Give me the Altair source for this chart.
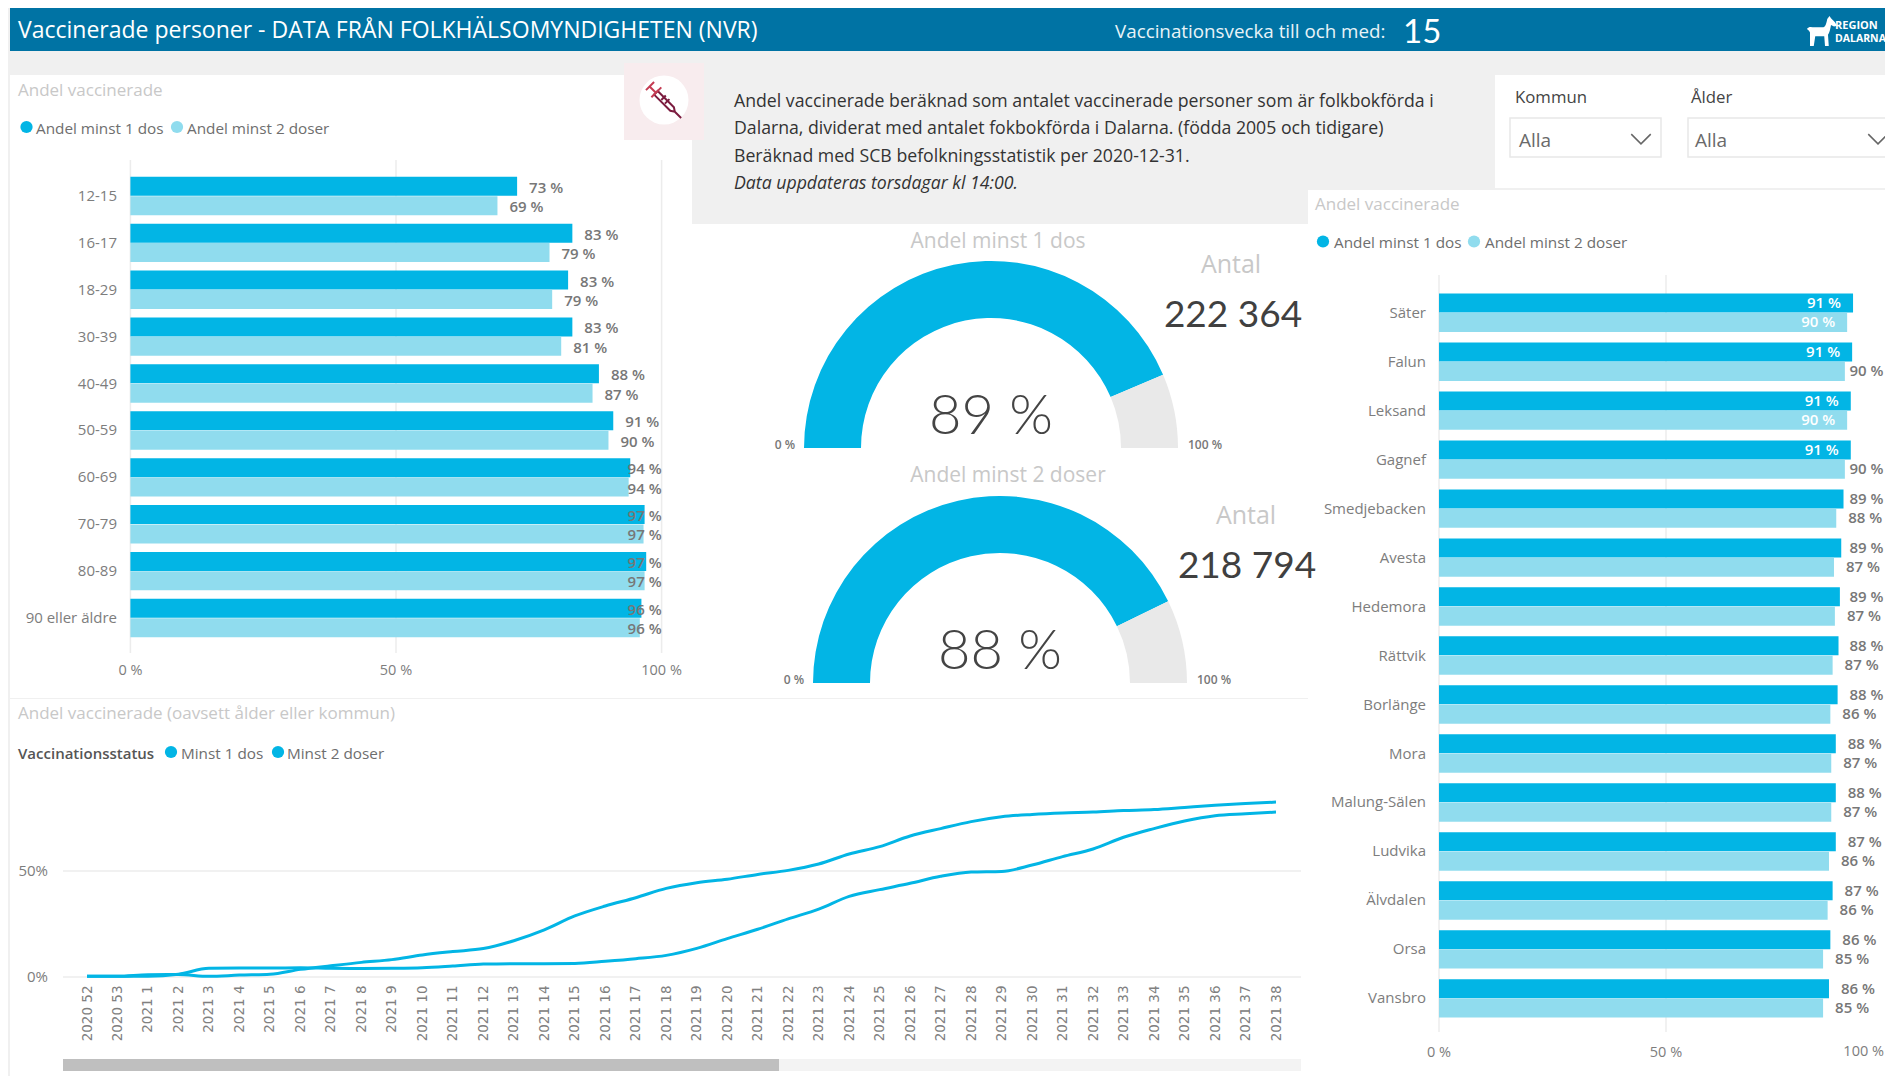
import altair as alt
import pandas as pd

CW, CH = 1877, 1068
FONT = "Open Sans"
NUMFONT = "Lato"
CYAN, LIGHT, HEADER = "#02b5e5", "#90dcee", "#0073a4"
GREY_TITLE, GREY_TEXT, GRID = "#c8c8c8", "#6e6e6e", "#ececec"
AXIS_GREY = "#7d7d7d"

# ---------- data ----------
ages = ["12-15", "16-17", "18-29", "30-39", "40-49", "50-59", "60-69", "70-79", "80-89", "90 eller äldre"]
age_dos1 = [72.8, 83.2, 82.4, 83.2, 88.2, 90.9, 94.1, 96.8, 97.1, 96.2]
age_dos2 = [69.1, 78.9, 79.4, 81.1, 87.0, 90.0, 93.8, 96.6, 96.8, 95.9]
age_lab1 = ["73 %", "83 %", "83 %", "83 %", "88 %", "91 %", "94 %", "97 %", "97 %", "96 %"]
age_lab2 = ["69 %", "79 %", "79 %", "81 %", "87 %", "90 %", "94 %", "97 %", "97 %", "96 %"]

kommuner = ["Säter", "Falun", "Leksand", "Gagnef", "Smedjebacken", "Avesta", "Hedemora", "Rättvik",
            "Borlänge", "Mora", "Malung-Sälen", "Ludvika", "Älvdalen", "Orsa", "Vansbro"]
kom_dos1 = [91.2, 91.0, 90.7, 90.7, 89.1, 88.6, 88.3, 88.0, 87.8, 87.4, 87.4, 87.4, 86.7, 86.2, 85.9]
kom_dos2 = [89.9, 89.4, 89.9, 89.4, 87.5, 87.0, 87.2, 86.7, 86.2, 86.4, 86.4, 85.9, 85.6, 84.6, 84.6]
kom_lab1 = ["91 %", "91 %", "91 %", "91 %", "89 %", "89 %", "89 %", "88 %", "88 %", "88 %", "88 %", "87 %", "87 %", "86 %", "86 %"]
kom_lab2 = ["90 %", "90 %", "90 %", "90 %", "88 %", "87 %", "87 %", "87 %", "86 %", "87 %", "87 %", "86 %", "86 %", "85 %", "85 %"]
kom_in1 = [True, True, True, True] + [False] * 11
kom_in2 = [True, False, True, False] + [False] * 11

bar_ticks = [0, 50, 100]
bar_tick_labels = ["0 %", "50 %", "100 %"]
line_ticks = [0, 50]
line_tick_labels = ["0%", "50%"]

weeks = ["2020 52", "2020 53"] + [f"2021 {i}" for i in range(1, 39)]
minst1 = [0.3, 0.3, 1.1, 1.2, 0.3, 0.9, 1.3, 3.6, 5.3, 6.9, 8.2, 10.4, 12.0, 13.4, 17.1, 22.2, 28.8, 33.5, 37.4, 41.8,
          44.5, 46.1, 48.4, 50.3, 53.3, 58.0, 61.5, 66.5, 70.0, 73.3, 75.6, 76.7, 77.4, 77.8, 78.5, 79.0, 80.0, 81.0, 81.8, 82.5]
minst2 = [0.3, 0.3, 0.3, 1.3, 4.1, 4.2, 4.2, 4.4, 4.1, 4.0, 4.1, 4.4, 5.2, 6.1, 6.3, 6.3, 6.4, 7.4, 8.6, 10.2,
          13.5, 18.1, 22.5, 27.4, 32.0, 38.0, 41.2, 44.2, 47.5, 49.5, 49.8, 52.8, 56.8, 60.4, 65.9, 70.0, 73.6, 76.1, 77.0, 77.8]

gauge_fill = [87.2, 85.6]
gauge_text = ["89 %", "88 %"]
antal = ["222 364", "218 794"]
info_lines = [
    "Andel vaccinerade beräknad som antalet vaccinerade personer som är folkbokförda i",
    "Dalarna, dividerat med antalet fokbokförda i Dalarna. (födda 2005 och tidigare)",
    "Beräknad med SCB befolkningsstatistik per 2020-12-31.",
]
info_note = "Data uppdateras torsdagar kl 14:00."

EMPTY = alt.Data(values=[{"k": 0}])


def vx(x):
    return x - 8


def vy(y):
    return y - 8


def rect(x0, y0, x1, y1, fill, stroke=None):
    kw = {"stroke": stroke, "strokeWidth": 1.5} if stroke else {}
    return alt.Chart(EMPTY).mark_rect(color=fill, **kw).encode(
        x=alt.value(vx(x0)), x2=alt.value(vx(x1)), y=alt.value(vy(y0)), y2=alt.value(vy(y1)))


def label(text, x, y, size=15, color=GREY_TEXT, align="left", font=FONT, **kw):
    return alt.Chart(EMPTY).mark_text(text=text, fontSize=size, color=color, align=align,
                                      baseline="middle", font=font, **kw).encode(
        x=alt.value(vx(x)), y=alt.value(vy(y) + 1.8))


def dot(x, y, color):
    return alt.Chart(EMPTY).mark_circle(size=150, color=color, opacity=1).encode(
        x=alt.value(vx(x)), y=alt.value(vy(y)))


def glyph(path, x, y, size, **kw):
    return alt.Chart(EMPTY).mark_point(shape=path, size=size, **kw).encode(
        x=alt.value(vx(x)), y=alt.value(vy(y)))


def bar_panel(cats, v1, v2, l1, l2, x0, x100, y_first, y_last, label_x, axis_y, grid_top, grid_bottom,
              in1=None, in2=None, clamp=None, lsize=15, gap=12, tick_n=3, text_dy=0):
    step = (y_last - y_first) / (len(cats) - 1)
    xs = alt.Scale(domain=[0, 100], range=[vx(x0), vx(x100)])
    ys = alt.Scale(domain=cats, range=[vy(y_first - step / 2), vy(y_last + step / 2)], paddingInner=0, paddingOuter=0)
    in1 = in1 or [False] * len(cats)
    in2 = in2 or [False] * len(cats)
    unit = 100 / (x100 - x0)
    grid = alt.Chart(pd.DataFrame({"g": bar_ticks})).mark_rule(color=GRID, strokeWidth=1.5).encode(
        x=alt.X("g:Q", scale=xs, axis=None),
        y=alt.value(vy(grid_top)), y2=alt.value(vy(grid_bottom)))
    parts = [grid]
    parts.append(alt.Chart(pd.DataFrame({"g": bar_ticks[:tick_n], "t": bar_tick_labels[:tick_n]})).mark_text(
        font=FONT, fontSize=14.5, color=AXIS_GREY, align="center", baseline="middle").encode(
        x=alt.X("g:Q", scale=xs, axis=None), y=alt.value(vy(axis_y) + 1), text="t:N"))
    parts.append(alt.Chart(pd.DataFrame({"cat": cats})).mark_text(
        font=FONT, fontSize=15, color=AXIS_GREY, align="right", baseline="middle").encode(
        x=alt.value(vx(label_x)), y=alt.Y("cat:N", scale=ys, sort=None, axis=None), text="cat:N"))
    for i, (vals, labs, inside, col) in enumerate([(v1, l1, in1, CYAN), (v2, l2, in2, LIGHT)]):
        off = -9.7 if i == 0 else 9.7
        df = pd.DataFrame({"cat": cats, "v": vals, "lab": labs, "inside": inside})
        parts.append(alt.Chart(df).mark_bar(size=19, color=col, yOffset=off).encode(
            x=alt.X("v:Q", scale=xs, axis=None), y=alt.Y("cat:N", scale=ys, sort=None, axis=None)))
        out = df[~df["inside"]].copy()
        out["lx"] = out["v"] + gap * unit
        if clamp:
            out["lx"] = out["lx"].clip(upper=clamp)
        parts.append(alt.Chart(out).mark_text(align="left", baseline="middle", font=FONT, fontSize=lsize,
                                              fontWeight=600, color="#777777", yOffset=off + text_dy).encode(
            x=alt.X("lx:Q", scale=xs, axis=None), y=alt.Y("cat:N", scale=ys, sort=None, axis=None), text="lab:N"))
        ins = df[df["inside"]].copy()
        if len(ins):
            ins["lx"] = ins["v"] - gap * unit
            parts.append(alt.Chart(ins).mark_text(align="right", baseline="middle", font=FONT, fontSize=lsize,
                                                  fontWeight=600, color="#ffffff", yOffset=off + text_dy).encode(
                x=alt.X("lx:Q", scale=xs, axis=None), y=alt.Y("cat:N", scale=ys, sort=None, axis=None), text="lab:N"))
    return alt.layer(*parts)


def gauge(value, cx, cy, outer=187, inner=130):
    ts = alt.Scale(domain=[0, 100], range=[4.71239, 7.85398])
    df = pd.DataFrame({"s": [0, value], "e": [value, 100], "part": ["fill", "rest"]})
    return alt.Chart(df).mark_arc(radius=outer, radius2=inner).encode(
        x=alt.value(vx(cx)), y=alt.value(vy(cy)),
        theta=alt.Theta("s:Q", scale=ts, stack=None), theta2="e:Q",
        color=alt.Color("part:N", scale=alt.Scale(domain=["fill", "rest"], range=[CYAN, "#e9e9e9"]), legend=None))


# ---------- background panels ----------
layers = [
    rect(10, 5, 1893, 51, HEADER),
    rect(10, 75, 692, 698, "#ffffff"),
    rect(692, 224, 1308, 698, "#ffffff"),
    rect(10, 699, 1308, 1076, "#ffffff"),
    rect(1308, 190, 1893, 1076, "#ffffff"),
    rect(1495, 75, 1893, 188, "#ffffff"),
    rect(624, 63, 704, 140, "#f8ecee"),
]

# ---------- header ----------
horse = ("M-1,-0.15 C-0.85,-0.35 -0.7,-0.25 -0.45,-0.25 L0.1,-0.25 C0.25,-0.3 0.3,-0.55 0.35,-0.8 L0.5,-1 L0.6,-0.85 "
         "L0.85,-0.6 L1,-0.35 L0.8,-0.3 L0.6,-0.4 C0.55,-0.1 0.5,0.1 0.4,0.25 L0.45,1 L0.2,1 L0.15,0.35 L-0.45,0.35 "
         "L-0.55,1 L-0.8,1 L-0.8,0.1 C-0.85,-0.05 -0.95,-0.05 -1,-0.15 Z")
layers += [
    label("Vaccinerade personer - DATA FRÅN FOLKHÄLSOMYNDIGHETEN (NVR)", 18, 29, size=23, color="#ffffff"),
    label("Vaccinationsvecka till och med:", 1115, 30, size=18.8, color="#e8f3f8"),
    label("15", 1403, 31, size=33, color="#ffffff", font=NUMFONT),
    glyph(horse, 1822, 31, 900, filled=True, color="#ffffff", opacity=1, strokeWidth=0),
    label("REGION", 1835, 24, size=11, color="#ffffff", fontWeight="bold"),
    label("DALARNA", 1835, 37, size=10.5, color="#ffffff", fontWeight="bold"),
]

# ---------- syringe icon ----------
syr_body = ("M-0.35,-0.5 L0.55,0.4 L0.6,0.65 L0.35,0.6 L-0.55,-0.3 Z M0.6,0.65 L0.95,1 ")
syr_rod = "M-0.45,-0.4 L-0.8,-0.75 M-1,-0.55 L-0.55,-1 M-0.7,-0.15 L-0.15,-0.7"
syr_tick = "M-0.15,0 L0.1,-0.25 M0.05,0.2 L0.3,-0.05"
layers += [
    alt.Chart(EMPTY).mark_circle(size=2400, color="#ffffff", opacity=1).encode(x=alt.value(vx(664)), y=alt.value(vy(100))),
    glyph(syr_body, 664, 100, 1300, filled=False, color="#7b1c3f", strokeWidth=2, opacity=1),
    glyph(syr_rod, 664, 100, 1300, filled=False, color="#c43b52", strokeWidth=2, opacity=1),
    glyph(syr_tick, 664, 100, 1300, filled=False, color="#7b1c3f", strokeWidth=2, opacity=1),
]

# ---------- info text ----------
for line, y in zip(info_lines, [100, 127, 155]):
    layers.append(label(line, 734, y, size=17.7, color="#333333"))
layers.append(label(info_note, 734, 182, size=17.7, color="#333333", fontStyle="italic"))

# ---------- slicers ----------
chev = "M-1,-0.5 L0,0.5 L1,-0.5"
layers += [
    label("Kommun", 1515, 96, size=16.8, color="#444444"),
    label("Ålder", 1691, 96, size=16.8, color="#444444"),
    rect(1510, 118, 1661, 157, "#ffffff", "#e8e8e8"),
    rect(1688, 118, 1900, 157, "#ffffff", "#e8e8e8"),
    label("Alla", 1519, 139, size=19, color="#6a6a6a"),
    label("Alla", 1695, 139, size=19, color="#6a6a6a"),
    glyph(chev, 1641, 139, 380, filled=False, color="#666666", strokeWidth=1.5, opacity=1),
    glyph(chev, 1878, 139, 380, filled=False, color="#666666", strokeWidth=1.5, opacity=1),
]

# ---------- left panel ----------
layers += [
    label("Andel vaccinerade", 18, 89, size=17, color=GREY_TITLE),
    dot(26.5, 127, CYAN), label("Andel minst 1 dos", 36, 127, size=15.3),
    dot(177, 127, LIGHT), label("Andel minst 2 doser", 187, 127, size=15.3),
    bar_panel(ages, age_dos1, age_dos2, age_lab1, age_lab2, 130.4, 661.6, 196, 618, 117, 670, 160, 653, clamp=93.6,
              text_dy=1.5),
]

# ---------- right panel ----------
layers += [
    label("Andel vaccinerade", 1315, 203, size=17, color=GREY_TITLE),
    dot(1323, 241.5, CYAN), label("Andel minst 1 dos", 1334, 241.5, size=15.3),
    dot(1474, 241.5, LIGHT), label("Andel minst 2 doser", 1485, 241.5, size=15.3),
    bar_panel(kommuner, kom_dos1, kom_dos2, kom_lab1, kom_lab2, 1439, 1893, 312.7, 998.4, 1426, 1052, 275, 1032,
              in1=kom_in1, in2=kom_in2, clamp=90.4, tick_n=2),
    label("100 %", 1884, 1050, size=14.5, color=AXIS_GREY, align="right"),
]

# ---------- gauges ----------
cxs, cys = [991, 1000], [448, 683]
titles = [("Andel minst 1 dos", 998, 240), ("Andel minst 2 doser", 1008, 474)]
antal_pos = [(1231, 263, 1233, 314), (1246, 514, 1247, 565)]
for i in range(2):
    layers.append(gauge(gauge_fill[i], cxs[i], cys[i]))
    layers += [
        label(titles[i][0], titles[i][1], titles[i][2], size=21, color=GREY_TITLE, align="center"),
        label(gauge_text[i], cxs[i], cys[i] - 33, size=56, color="#444444", align="center", font=NUMFONT, fontWeight=300),
        label("0 %", cxs[i] - 206, cys[i] - 5, size=12, color="#777777", align="center", fontWeight=600),
        label("100 %", cxs[i] + 214, cys[i] - 5, size=12, color="#777777", align="center", fontWeight=600),
        label("Antal", antal_pos[i][0], antal_pos[i][1], size=25, color=GREY_TITLE, align="center"),
        label(antal[i], antal_pos[i][2], antal_pos[i][3], size=37, color="#404040", align="center", font=NUMFONT),
    ]

# ---------- line panel ----------
line_df = pd.DataFrame({
    "week": weeks * 2,
    "pct": minst1 + minst2,
    "status": ["Minst 1 dos"] * len(weeks) + ["Minst 2 doser"] * len(weeks),
})
lx = alt.Scale(type="point", domain=weeks, range=[vx(87), vx(1276)], padding=0)
ly = alt.Scale(domain=[0, 100], range=[vy(977), vy(765)])
line_grid = alt.Chart(pd.DataFrame({"g": line_ticks})).mark_rule(color=GRID, strokeWidth=1.5).encode(
    y=alt.Y("g:Q", scale=ly, axis=None),
    x=alt.value(vx(63)), x2=alt.value(vx(1301)))
line_ticktext = alt.Chart(pd.DataFrame({"g": line_ticks, "t": line_tick_labels})).mark_text(
    font=FONT, fontSize=15, color=AXIS_GREY, align="right", baseline="middle").encode(
    y=alt.Y("g:Q", scale=ly, axis=None), x=alt.value(vx(48)), text="t:N")
line_marks = alt.Chart(line_df).mark_line(color=CYAN, strokeWidth=3, interpolate="monotone").encode(
    x=alt.X("week:N", scale=lx, sort=None, axis=alt.Axis(
        orient="bottom", values=weeks, domain=False, ticks=False, grid=False, title=None, labelAngle=270, labelAlign="right",
        labelBaseline="middle", labelFont="DejaVu Sans", labelFontSize=13.5, labelColor="#808080", labelPadding=0,
        labelOverlap=False, offset=vy(985) - CH, zindex=1)),
    y=alt.Y("pct:Q", scale=ly, axis=None),
    detail="status:N")
layers += [
    label("Andel vaccinerade (oavsett ålder eller kommun)", 18, 712, size=17, color=GREY_TITLE),
    label("Vaccinationsstatus", 18, 752, size=15, color="#555555", fontWeight=600),
    dot(171, 752, CYAN), label("Minst 1 dos", 181, 752, size=15.3),
    dot(278, 752, CYAN), label("Minst 2 doser", 287, 752, size=15.3),
    alt.layer(line_grid, line_ticktext, line_marks),
    rect(63, 1059, 1301, 1071, "#f3f3f3"),
    rect(63, 1059, 779, 1071, "#bfbfbf"),
]

chart = alt.layer(*layers).resolve_scale(x="independent", y="independent", color="independent", theta="independent").properties(
    width=CW, height=CH, padding=0, background="#f0f0f0",
    autosize=alt.AutoSizeParams(type="none"),
).configure_view(stroke=None)

chart.save("out.html", embed_options={"renderer": "svg", "actions": False})
